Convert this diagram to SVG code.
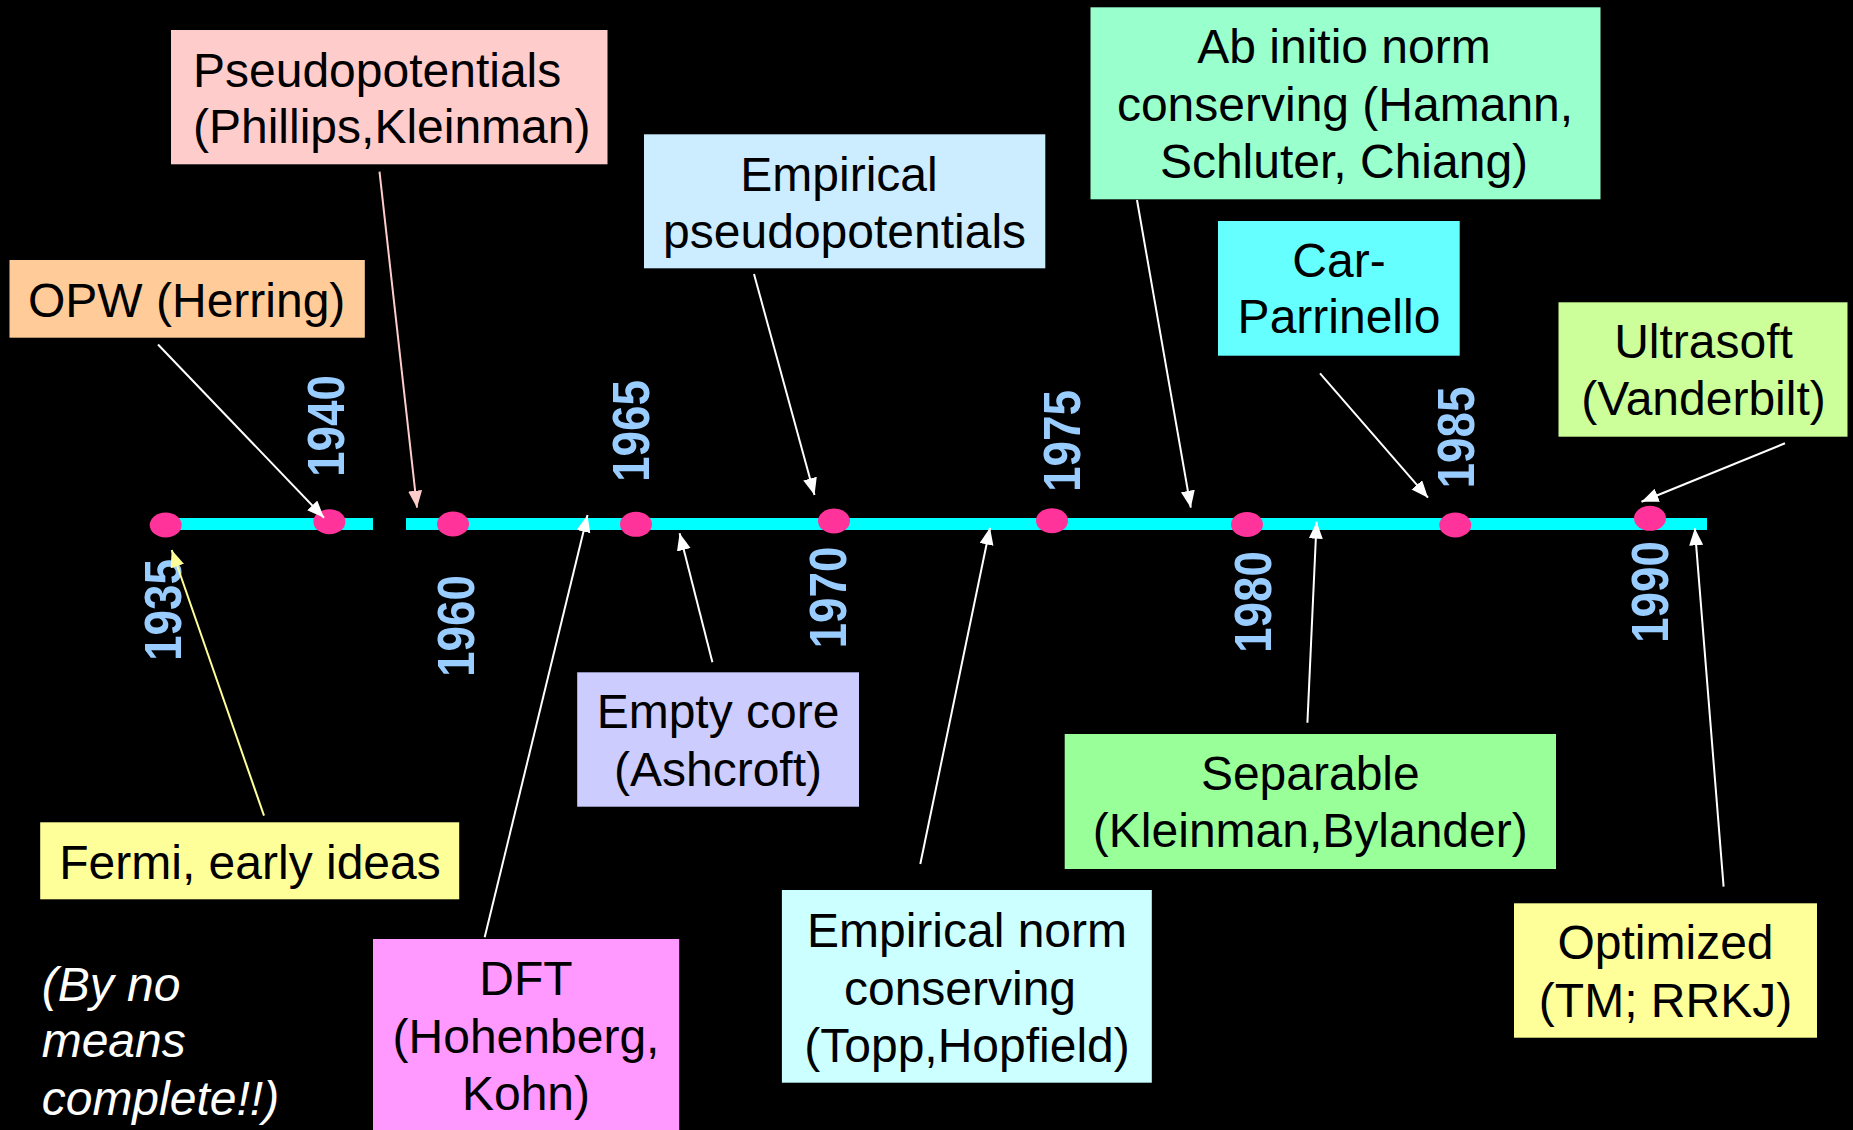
<svg xmlns="http://www.w3.org/2000/svg" width="1853" height="1130" viewBox="0 0 1853 1130">
  <defs>
    <style>
      .box text { font-family: "Liberation Sans", Arial, sans-serif; font-size: 48px; fill: #000; }
      .mid { text-anchor: middle; }
      .year { font-family: "Liberation Sans", Arial, sans-serif; font-size: 51px; font-weight: bold; fill: #99CCFF; }
      .dot { fill: #FF3399; }
      .bar { fill: #00FFFF; }
      .link { stroke-width: 2; fill: none; }
      .w { stroke: #FFFFFF; marker-end: url(#headW); }
      .p { stroke: #FFCCCC; marker-end: url(#headP); }
      .y { stroke: #FFFF99; marker-end: url(#headY); }
      .note { font-family: "Liberation Sans", Arial, sans-serif; font-size: 48px; font-style: italic; fill: #FFFFFF; }
    </style>
    <marker id="headW" markerUnits="userSpaceOnUse" markerWidth="18" markerHeight="16" refX="17" refY="7" orient="auto">
      <path d="M0,0 L17,7 L0,14 z" fill="#FFFFFF"/>
    </marker>
    <marker id="headP" markerUnits="userSpaceOnUse" markerWidth="18" markerHeight="16" refX="17" refY="7" orient="auto">
      <path d="M0,0 L17,7 L0,14 z" fill="#FFCCCC"/>
    </marker>
    <marker id="headY" markerUnits="userSpaceOnUse" markerWidth="18" markerHeight="16" refX="17" refY="7" orient="auto">
      <path d="M0,0 L17,7 L0,14 z" fill="#FFFF99"/>
    </marker>
  </defs>

  <rect x="0" y="0" width="1853" height="1130" fill="#000000"/>

  <!-- timeline bar -->
  <g id="timeline">
    <rect class="bar" x="166" y="518" width="207" height="12"/>
    <rect class="bar" x="406" y="518" width="1301" height="12"/>
  </g>

  <!-- year markers -->
  <g id="years">
    <ellipse class="dot" cx="165.7" cy="525" rx="16" ry="12.5"/>
    <ellipse class="dot" cx="329.4" cy="521.7" rx="16" ry="12.5"/>
    <ellipse class="dot" cx="453" cy="524" rx="16" ry="12.5"/>
    <ellipse class="dot" cx="636" cy="524.3" rx="16" ry="12.5"/>
    <ellipse class="dot" cx="834" cy="521" rx="16" ry="12.5"/>
    <ellipse class="dot" cx="1052" cy="520.7" rx="16" ry="12.5"/>
    <ellipse class="dot" cx="1247" cy="524.5" rx="16" ry="12.5"/>
    <ellipse class="dot" cx="1455.3" cy="525" rx="16" ry="12.5"/>
    <ellipse class="dot" cx="1650" cy="518.3" rx="16" ry="12.5"/>

    <text class="year" transform="translate(181,661) rotate(-90)" textLength="102" lengthAdjust="spacingAndGlyphs">1935</text>
    <text class="year" transform="translate(344,477) rotate(-90)" textLength="102" lengthAdjust="spacingAndGlyphs">1940</text>
    <text class="year" transform="translate(473.5,677) rotate(-90)" textLength="102" lengthAdjust="spacingAndGlyphs">1960</text>
    <text class="year" transform="translate(649,482) rotate(-90)" textLength="102" lengthAdjust="spacingAndGlyphs">1965</text>
    <text class="year" transform="translate(845.5,648.5) rotate(-90)" textLength="102" lengthAdjust="spacingAndGlyphs">1970</text>
    <text class="year" transform="translate(1080,492) rotate(-90)" textLength="102" lengthAdjust="spacingAndGlyphs">1975</text>
    <text class="year" transform="translate(1271,653) rotate(-90)" textLength="102" lengthAdjust="spacingAndGlyphs">1980</text>
    <text class="year" transform="translate(1473.5,488.5) rotate(-90)" textLength="102" lengthAdjust="spacingAndGlyphs">1985</text>
    <text class="year" transform="translate(1668,643) rotate(-90)" textLength="102" lengthAdjust="spacingAndGlyphs">1990</text>
  </g>

  <!-- connectors -->
  <g id="connectors">
    <line class="link p" x1="379.5" y1="171.7" x2="417" y2="507.7"/>
    <line class="link w" x1="158" y1="344.5" x2="324" y2="517.7"/>
    <line class="link y" x1="264" y1="815.7" x2="171.7" y2="550"/>
    <line class="link w" x1="484.7" y1="937.3" x2="587.5" y2="515"/>
    <line class="link w" x1="712.4" y1="662.3" x2="679.6" y2="533.3"/>
    <line class="link w" x1="754" y1="274" x2="814.5" y2="495"/>
    <line class="link w" x1="920.3" y1="864" x2="990" y2="527.7"/>
    <line class="link w" x1="1137" y1="200" x2="1190.8" y2="507.7"/>
    <line class="link w" x1="1307.4" y1="722.7" x2="1316.6" y2="521.7"/>
    <line class="link w" x1="1320" y1="373.3" x2="1428" y2="497.7"/>
    <line class="link w" x1="1785" y1="443.3" x2="1641.5" y2="501.7"/>
    <line class="link w" x1="1723.6" y1="886.7" x2="1694.8" y2="528.3"/>
  </g>

  <!-- milestone boxes -->
  <g id="pseudopotentials" class="box">
    <rect x="171" y="30" width="436.5" height="134.3" fill="#FFCCCC"/>
    <text x="193" y="87.3">Pseudopotentials</text>
    <text x="193" y="143.3">(Phillips,Kleinman)</text>
  </g>

  <g id="opw" class="box">
    <rect x="9.5" y="260" width="355.3" height="77.7" fill="#FFCC99"/>
    <text x="28" y="316.7">OPW (Herring)</text>
  </g>

  <g id="empirical-pseudopotentials" class="box">
    <rect x="644" y="134.3" width="401.3" height="134" fill="#CCECFF"/>
    <text class="mid" x="839" y="190.7">Empirical</text>
    <text class="mid" x="844.6" y="248.3">pseudopotentials</text>
  </g>

  <g id="ab-initio" class="box">
    <rect x="1090.5" y="7.3" width="510" height="192" fill="#99FFCC"/>
    <text class="mid" x="1344" y="63.3">Ab initio norm</text>
    <text class="mid" x="1345" y="120.5">conserving (Hamann,</text>
    <text class="mid" x="1344" y="178.3">Schluter, Chiang)</text>
  </g>

  <g id="car-parrinello" class="box">
    <rect x="1218" y="221" width="241.7" height="134.7" fill="#66FFFF"/>
    <text class="mid" x="1339" y="276.7">Car-</text>
    <text class="mid" x="1339" y="333.3">Parrinello</text>
  </g>

  <g id="ultrasoft" class="box">
    <rect x="1558.5" y="302.3" width="289" height="134.4" fill="#CCFF99"/>
    <text class="mid" x="1703.5" y="358.3">Ultrasoft</text>
    <text class="mid" x="1703.5" y="415">(Vanderbilt)</text>
  </g>

  <g id="empty-core" class="box">
    <rect x="577.2" y="672.3" width="281.8" height="134.4" fill="#CCCCFF"/>
    <text class="mid" x="718" y="728.3">Empty core</text>
    <text class="mid" x="718" y="786">(Ashcroft)</text>
  </g>

  <g id="fermi" class="box">
    <rect x="40.2" y="822.3" width="419" height="77" fill="#FFFF99"/>
    <text class="mid" x="250" y="879.3">Fermi, early ideas</text>
  </g>

  <g id="dft" class="box">
    <rect x="373" y="939" width="306.2" height="191" fill="#FF99FF"/>
    <text class="mid" x="526" y="995">DFT</text>
    <text class="mid" x="526" y="1053">(Hohenberg,</text>
    <text class="mid" x="526" y="1110">Kohn)</text>
  </g>

  <g id="empirical-norm" class="box">
    <rect x="781.9" y="890" width="369.9" height="192.7" fill="#CCFFFF"/>
    <text class="mid" x="967" y="946.7">Empirical norm</text>
    <text class="mid" x="960" y="1005">conserving</text>
    <text class="mid" x="967" y="1061.7">(Topp,Hopfield)</text>
  </g>

  <g id="separable" class="box">
    <rect x="1064.7" y="734" width="491.3" height="135" fill="#99FF99"/>
    <text class="mid" x="1310.3" y="790">Separable</text>
    <text class="mid" x="1310.3" y="846.7">(Kleinman,Bylander)</text>
  </g>

  <g id="optimized" class="box">
    <rect x="1514" y="903.3" width="303" height="134.4" fill="#FFFF99"/>
    <text class="mid" x="1665.5" y="959.3">Optimized</text>
    <text class="mid" x="1665.5" y="1016.7">(TM; RRKJ)</text>
  </g>

  <!-- side note -->
  <g id="note">
    <text class="note" x="41.7" y="1001">(By no</text>
    <text class="note" x="41.7" y="1056.7">means</text>
    <text class="note" x="41.7" y="1115">complete!!)</text>
  </g>
</svg>
